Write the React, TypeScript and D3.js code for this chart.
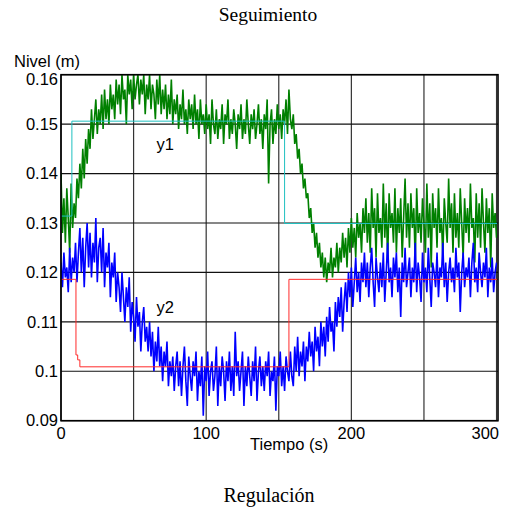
import React from "react";
import * as d3 from "d3";

// measured level y1 (mm), one sample per second, t = 0..300
const y1mm = [
  140, 128, 135, 126, 137, 131, 124, 138, 129, 134,
  131, 139, 135, 142, 137, 145, 139, 147, 142, 149,
  145, 153, 147, 151, 155, 148, 153, 150, 156, 149,
  157, 151, 155, 150, 158, 153, 156, 151, 159, 154,
  158, 152, 160, 155, 157, 150, 160, 156, 159, 153,
  160, 155, 158, 160, 154, 159, 156, 160, 152, 158,
  155, 160, 153, 158, 156, 151, 159, 154, 160, 152,
  157, 153, 158, 151, 156, 152, 159, 150, 155, 152,
  156, 149, 154, 151, 157, 150, 153, 148, 155, 151,
  154, 149, 156, 150, 153, 147, 155, 150, 152, 148,
  154, 149, 152, 146, 155, 150, 148, 153, 147, 151,
  149, 154, 146, 152, 150, 155, 147, 151, 148, 153,
  150, 145, 152, 149, 154, 147, 151, 148, 155, 150,
  146, 152, 149, 153, 147, 150, 154, 148, 151, 145,
  152, 149, 155, 138, 150, 153, 146, 151, 148, 154,
  149, 152, 147, 153, 150, 155, 148, 157, 151, 149,
  152, 146, 148, 143, 145, 140, 142, 137, 139, 135,
  136, 131, 133, 128, 130, 125, 128, 123, 126, 121,
  124, 119, 123, 118, 122, 120, 125, 119, 123, 121,
  126, 120, 125, 122, 128, 123, 127, 121, 129, 124,
  131, 125, 129, 123, 132, 127, 130, 124, 133, 128,
  135, 126, 132, 124, 137, 129, 133, 123, 136, 128,
  131, 125, 138, 127, 134, 122, 136, 129, 132, 126,
  137, 124, 133, 128, 135, 123, 131, 139, 127, 134,
  125, 136, 129, 133, 122, 137, 128, 132, 126, 135,
  130, 124, 138, 127, 134, 121, 136, 129, 133, 125,
  137, 128, 131, 123, 135, 130, 126, 139, 129, 134,
  124, 136, 127, 132, 125, 137, 130, 123, 135, 128,
  133, 126, 138, 129, 131, 122, 136, 127, 134, 125,
  137, 130, 124, 135, 128, 133, 121, 136, 129, 132,
  127,
];

// measured level y2 (mm)
const y2mm = [
  122, 117, 124, 119, 121, 116, 125, 118, 123, 120,
  126, 118, 124, 129, 120, 127, 117, 125, 130, 121,
  128, 119, 126, 122, 131, 118, 125, 127, 120, 129,
  117, 124, 121, 126, 115, 122, 119, 124, 114, 120,
  117, 112, 120, 115, 110, 117, 113, 119, 108, 114,
  111, 106, 115, 109, 112, 104, 110, 113, 106, 109,
  104, 110, 103, 108, 100, 106, 102, 109, 101, 105,
  98, 104, 101, 106, 97, 102, 99, 103, 96, 101,
  104, 97, 102, 95, 101, 105, 98, 93, 103, 99,
  96, 102, 99, 104, 94, 100, 97, 103, 91, 101,
  98, 104, 95, 100, 102, 96, 99, 105, 93, 101,
  97, 103, 100, 94, 102, 98, 104, 96, 101, 95,
  108, 99, 102, 96, 100, 104, 93, 101, 97, 103,
  99, 95, 102, 98, 105, 94, 100, 103, 97, 101,
  96, 102, 99, 104, 95, 100, 98, 103, 92, 101,
  99, 104, 97, 101, 96, 103, 100, 98, 104, 99,
  97, 105, 100, 107, 99, 104, 101, 106, 98, 105,
  102, 108, 103, 106, 100, 109, 104, 107, 101, 110,
  105, 109, 103, 111, 106, 113, 108, 110, 104, 114,
  109, 115, 111, 117, 108, 114, 118, 112, 120, 115,
  121, 113, 118, 123, 116, 120, 114, 122, 118, 124,
  117, 122, 115, 121, 125, 118, 113, 123, 119, 116,
  122, 117, 124, 114, 120, 126, 118, 121, 115, 123,
  119, 124, 116, 121, 111, 122, 118, 125, 117, 120,
  123, 115, 121, 118, 126, 116, 122, 119, 114, 124,
  118, 121, 116, 125, 119, 113, 122, 120, 117, 124,
  115, 121, 119, 126, 117, 122, 114, 120, 123, 118,
  121, 116, 125, 119, 122, 112, 120, 124, 117, 121,
  119, 123, 115, 122, 126, 118, 121, 116, 124, 120,
  117, 122, 119, 125, 115, 121, 118, 123, 116, 120,
  122,
];

// setpoints (step changes)
const ref1T = [0, 7.5, 154, 301];
const ref1V = [131.4, 150.6, 129.9, 129.9];
const ref2T = [0, 10.3, 11.5, 13, 157, 301];
const ref2V = [118.6, 103.3, 102.3, 100.9, 118.6, 118.6];

const xTicks = [0, 100, 200, 300];
const xGrid = [0, 50, 100, 150, 200, 250, 300];
const yTicks = [0.09, 0.1, 0.11, 0.12, 0.13, 0.14, 0.15, 0.16];

const W = 509;
const H = 509;
const left = 61;
const right = 498;
const top = 74.7;
const bottom = 420.7;
const font = "'Liberation Sans', Arial, sans-serif";
const serif = "'Liberation Serif', 'Times New Roman', serif";

export default function App() {
  const x = d3.scaleLinear().domain([0, 301]).range([left, right]);
  const y = d3.scaleLinear().domain([0.09, 0.16]).range([bottom, top]);

  const line = d3
    .line<number>()
    .x((_, i) => x(i))
    .y((d) => y(d / 1000));

  const stepLine = (ts: number[], vs: number[]) =>
    d3
      .line<number>()
      .curve(d3.curveStepAfter)
      .x((_, i) => x(ts[i]))
      .y((d) => y(d / 1000))(vs) as string;

  return (
    <svg
      width={W}
      height={H}
      style={{ position: "absolute", left: 0, top: 0, background: "#fff" }}
    >
      <defs>
        <clipPath id="plotArea">
          <rect x={left} y={top} width={right - left} height={bottom - top} />
        </clipPath>
      </defs>

      <text x={268} y={21} textAnchor="middle" fontFamily={serif} fontSize={19.5}>
        Seguimiento
      </text>

      {/* grid */}
      {xGrid.map((v) => (
        <line key={"gx" + v} x1={x(v)} x2={x(v)} y1={top} y2={bottom} stroke="#333" strokeWidth={1.2} />
      ))}
      {yTicks.map((v) => (
        <line key={"gy" + v} x1={left} x2={right} y1={y(v)} y2={y(v)} stroke="#111" strokeWidth={1.2} />
      ))}

      <g clipPath="url(#plotArea)">
        <path d={line(y1mm) as string} fill="none" stroke="#008000" strokeWidth={1.6} strokeLinejoin="bevel" />
        <path d={line(y2mm) as string} fill="none" stroke="#0000ff" strokeWidth={1.6} strokeLinejoin="bevel" />
        <path d={stepLine(ref1T, ref1V)} fill="none" stroke="#1fc0c0" strokeWidth={1} />
        <path d={stepLine(ref2T, ref2V)} fill="none" stroke="#ff2a2a" strokeWidth={1} />
      </g>

      <rect x={left} y={top} width={right - left} height={bottom - top} fill="none" stroke="#000" strokeWidth={1.6} />

      {/* y axis labels */}
      {yTicks.map((v) => (
        <text
          key={"ty" + v}
          x={58}
          y={Math.max(y(v), top + 5)}
          dy="0.35em"
          textAnchor="end"
          fontFamily={font}
          fontSize={16.5}
        >
          {String(+v.toFixed(2))}
        </text>
      ))}
      {xTicks.map((v) => (
        <text
          key={"tx" + v}
          x={v === 300 ? right + 1 : x(v)}
          y={438.5}
          textAnchor={v === 300 ? "end" : "middle"}
          fontFamily={font}
          fontSize={16.5}
        >
          {v}
        </text>
      ))}

      <text x={14} y={67} fontFamily={font} fontSize={16.5}>
        Nivel (m)
      </text>
      <text x={250} y={450} fontFamily={font} fontSize={16.5}>
        Tiempo (s)
      </text>
      <text x={156.5} y={149.5} fontFamily={font} fontSize={16.5}>
        y1
      </text>
      <text x={156.5} y={313.3} fontFamily={font} fontSize={16.5}>
        y2
      </text>

      <text x={269} y={501.5} textAnchor="middle" fontFamily={serif} fontSize={20}>
        Regulación
      </text>
    </svg>
  );
}
